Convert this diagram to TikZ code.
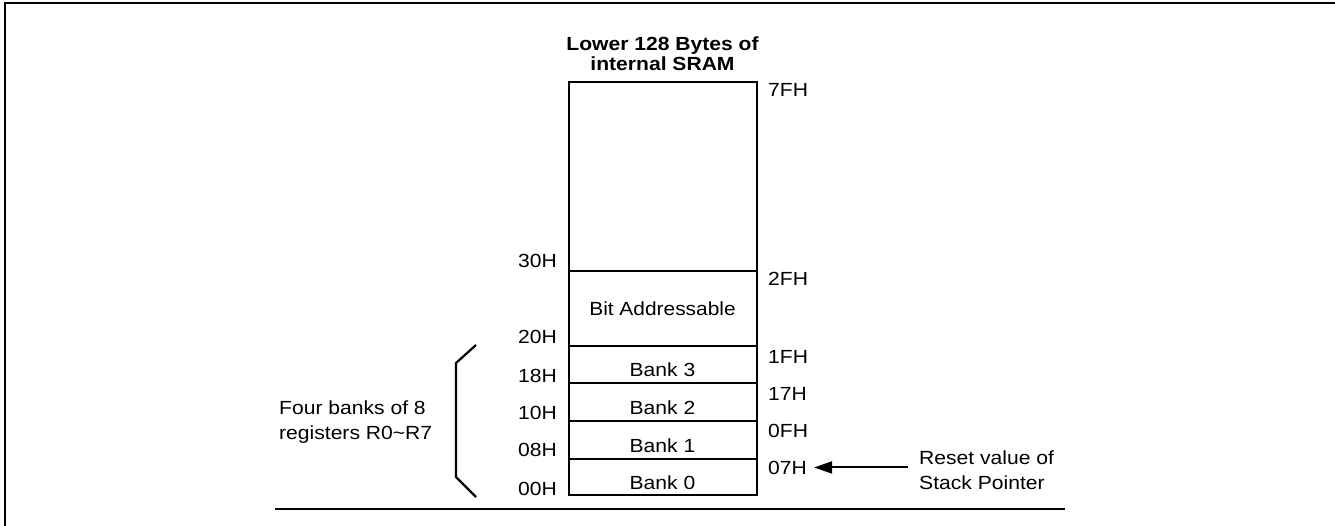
\documentclass[tikz,border=0pt]{standalone}
\usepackage{fontspec}
\setmainfont[FakeStretch=1.11]{Liberation Sans}
\usetikzlibrary{arrows.meta}
\begin{document}
\begin{tikzpicture}[x=1pt,y=-1pt,
  every node/.style={font=\fontsize{19}{25}\selectfont, inner sep=0pt},
  region/.style={draw, line width=2pt, minimum width=188pt},
  bank/.style={region, text height=24pt, text depth=0pt},
  addrL/.style={anchor=base east},
  addrR/.style={anchor=base west},
  conn/.style={line width=2pt}]
\useasboundingbox (0,0) rectangle (1335,526);
% frame
\draw[line width=2.2pt] (5,526) -- (5,3) -- (1335,3);
% title
\node[font=\fontsize{19}{20}\selectfont\bfseries, align=center] (title) at (662.5,54) {Lower 128 Bytes of\\internal SRAM};
% memory regions
\node[region, minimum height=189pt] (upper) at (662.5,176.5) {};
\node[region, minimum height=75pt] (bit) at (662.5,308.5) {\addfontfeature{FakeStretch=1.1}Bit Addressable};
\node[bank, minimum height=37pt] (b3) at (662.5,364.5) {Bank 3};
\node[bank, minimum height=38pt] (b2) at (662.5,402) {Bank 2};
\node[bank, minimum height=38pt] (b1) at (662.5,440) {Bank 1};
\node[bank, minimum height=36pt] (b0) at (662.5,477) {Bank 0};
% left addresses
\node[addrL] (a30) at (557,268) {30H};
\node[addrL] (a20) at (557,343) {20H};
\node[addrL] (a18) at (557,382) {18H};
\node[addrL] (a10) at (557,419) {10H};
\node[addrL] (a08) at (557,456) {08H};
\node[addrL] (a00) at (557,495) {00H};
% right addresses
\node[addrR] (a7F) at (768,97) {7FH};
\node[addrR] (a2F) at (768,286) {2FH};
\node[addrR] (a1F) at (768,363) {1FH};
\node[addrR] (a17) at (768,400) {17H};
\node[addrR] (a0F) at (768,437) {0FH};
\node[addrR] (a07) at (768,474) {07H};
% bracket and label
\draw[line width=2.2pt] (476,345) -- (456,363) -- (456,477) -- (476,497);
\node[anchor=west, align=left] (four) at (279,422.5) {Four banks of 8\\registers R0\textasciitilde R7};
% reset value
\node[anchor=west, align=left] (reset) at (919,470.5) {Reset value of\\Stack Pointer};
\draw[conn, -{Triangle[length=18pt,width=12pt]}] ([xshift=-11pt]reset.west |- a07.center) -- ([xshift=7pt]a07.east |- a07.center);
% base line
\draw[line width=2pt] (275,509) -- (1065,509);
\end{tikzpicture}
\end{document}
